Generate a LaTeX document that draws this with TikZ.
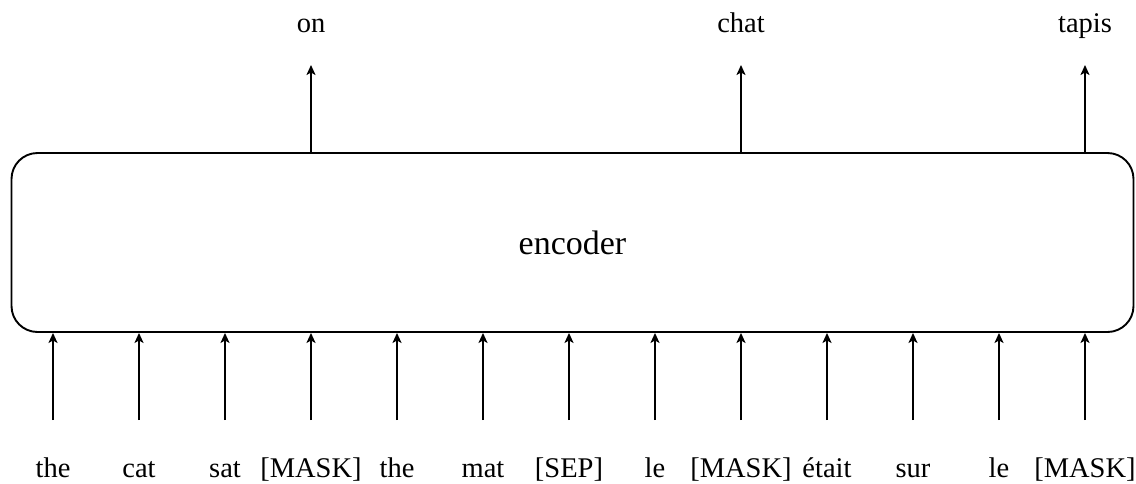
\documentclass[tikz,border=0pt]{standalone}
\usepackage{fontspec}
\setmainfont{Liberation Serif}
\usetikzlibrary{arrows.meta}
\begin{document}
\begin{tikzpicture}[x=1pt,y=-1pt,
  arr/.style={line width=1.9pt,-{Stealth[length=10pt,width=9pt,inset=2.5pt]}},
  tok/.style={anchor=base,inner sep=0pt,font=\fontsize{28.5}{32}\selectfont},
  encbox/.style={draw,line width=1.9pt,rounded corners=26pt,minimum width=1122pt,minimum height=179pt,inner sep=0pt,font=\fontsize{34}{38}\selectfont}]
\useasboundingbox (0,0) rectangle (1136,483);
\node[encbox] (enc) at (572.5,242.5) {encoder};
\foreach \i/\w in {0/the,1/cat,2/sat,3/{[MASK]},4/the,5/mat,6/{[SEP]},7/le,8/{[MASK]},9/était,10/sur,11/le,12/{[MASK]}}{
  \pgfmathsetmacro{\xx}{53+86*\i}
  \node[tok] (t\i) at (\xx,477) {\w};
  \coordinate (in\i) at (\xx,420);
  \draw[arr] (in\i) -- (in\i |- enc.south);
}
\foreach \i/\w in {3/on,8/chat,12/tapis}{
  \pgfmathsetmacro{\xx}{53+86*\i}
  \node[tok] (o\i) at (\xx,32) {\w};
  \coordinate (out\i) at (\xx,65);
  \draw[arr] (out\i |- enc.north) -- (out\i);
}
\end{tikzpicture}
\end{document}
